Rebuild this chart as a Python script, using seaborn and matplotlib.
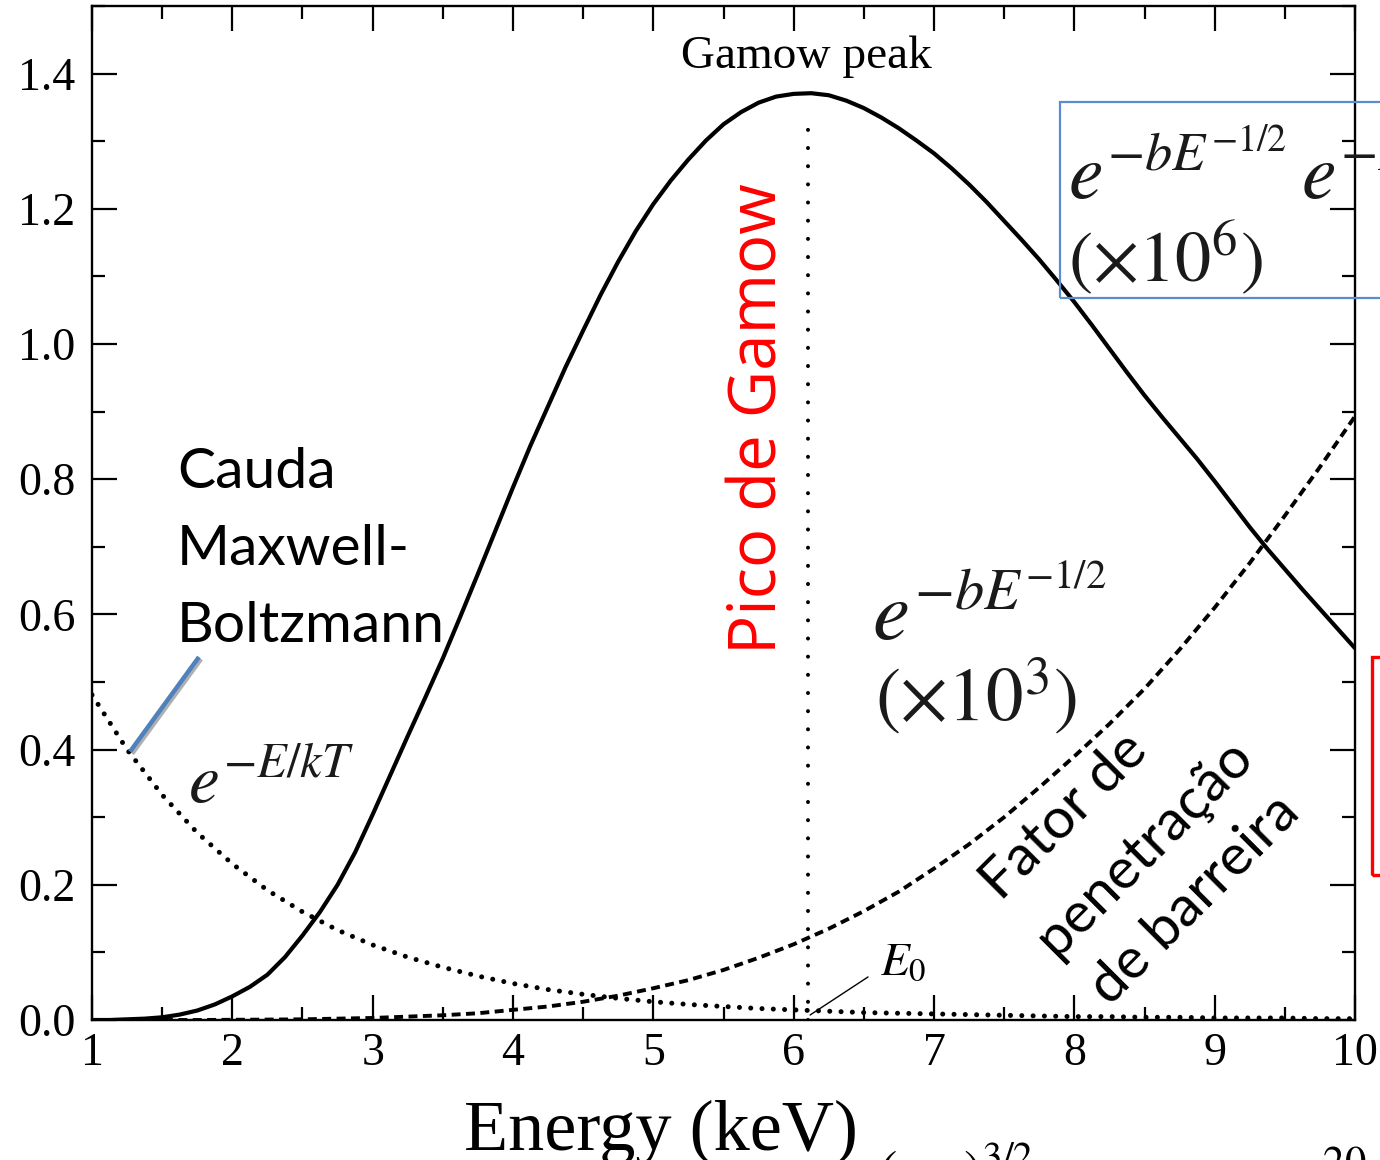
import numpy as np
import pandas as pd
import matplotlib
matplotlib.use("Agg")
import matplotlib.pyplot as plt
import matplotlib.patheffects as pe
from matplotlib.patches import Rectangle
from matplotlib.ticker import MultipleLocator, FormatStrFormatter
import seaborn as sns

# energia (keV) per il picco di Gamow, letta a passo fine
energy_fine = [1.0, 1.125, 1.25, 1.375, 1.5, 1.625, 1.75, 1.875, 2.0, 2.125, 2.25, 2.375,
               2.5, 2.625, 2.75, 2.875, 3.0, 3.125, 3.25, 3.375, 3.5, 3.625, 3.75, 3.875,
               4.0, 4.125, 4.25, 4.375, 4.5, 4.625, 4.75, 4.875, 5.0, 5.125, 5.25, 5.375,
               5.5, 5.625, 5.75, 5.875, 6.0, 6.125, 6.25, 6.375, 6.5, 6.625, 6.75, 6.875,
               7.0, 7.125, 7.25, 7.375, 7.5, 7.625, 7.75, 7.875, 8.0, 8.125, 8.25, 8.375,
               8.5, 8.625, 8.75, 8.875, 9.0, 9.125, 9.25, 9.375, 9.5, 9.625, 9.75, 9.875, 10.0]

gamow = [0.000, 0.000, 0.001, 0.002, 0.004, 0.008, 0.014, 0.023, 0.035, 0.049, 0.067, 0.093,
         0.125, 0.160, 0.200, 0.248, 0.304, 0.362, 0.420, 0.477, 0.535, 0.597, 0.660, 0.724,
         0.788, 0.850, 0.908, 0.966, 1.020, 1.073, 1.122, 1.167, 1.207, 1.242, 1.273, 1.301,
         1.325, 1.343, 1.357, 1.366, 1.370, 1.371, 1.368, 1.360, 1.349, 1.335, 1.319, 1.301,
         1.282, 1.260, 1.236, 1.210, 1.182, 1.154, 1.125, 1.094, 1.062, 1.028, 0.993, 0.958,
         0.924, 0.892, 0.861, 0.830, 0.797, 0.763, 0.729, 0.697, 0.667, 0.637, 0.608, 0.579, 0.550]

# energia (keV) per le altre due curve
energy = [1.0, 1.25, 1.5, 1.75, 2.0, 2.25, 2.5, 2.75, 3.0, 3.25, 3.5, 3.75,
          4.0, 4.25, 4.5, 4.75, 5.0, 5.25, 5.5, 5.75, 6.0, 6.25, 6.5, 6.75,
          7.0, 7.25, 7.5, 7.75, 8.0, 8.25, 8.5, 8.75, 9.0, 9.25, 9.5, 9.75, 10.0]

barrier = [0.000, 0.000, 0.000, 0.000, 0.0003, 0.0006, 0.001, 0.002, 0.003, 0.005,
           0.007, 0.010, 0.015, 0.020, 0.027, 0.036, 0.047, 0.059, 0.074, 0.092,
           0.112, 0.135, 0.161, 0.190, 0.224, 0.260, 0.300, 0.344, 0.390, 0.438,
           0.490, 0.548, 0.610, 0.676, 0.746, 0.818, 0.893]

boltzmann = [0.481, 0.400, 0.333, 0.277, 0.231, 0.192, 0.160, 0.133, 0.111, 0.093,
             0.078, 0.065, 0.054, 0.045, 0.038, 0.032, 0.027, 0.023, 0.020, 0.017,
             0.015, 0.013, 0.011, 0.010, 0.009, 0.008, 0.007, 0.006, 0.005, 0.005,
             0.004, 0.004, 0.003, 0.003, 0.003, 0.002, 0.002]

peak_energy = [6.1, 6.1]
peak_level = [0.0, 1.337]

df_g = pd.DataFrame({'E': energy_fine, 'gamow': gamow})
df = pd.DataFrame({'E': energy, 'barrier': barrier, 'mb': boltzmann})

# =========================================================
# STILE
# =========================================================
sns.set_theme(style="ticks")
plt.rcParams['font.family'] = ['Liberation Serif', 'DejaVu Serif']
plt.rcParams['mathtext.fontset'] = 'stix'
plt.rcParams['text.color'] = 'black'

fig = plt.figure(figsize=(13.8, 11.6), dpi=100)
ax = fig.add_axes([92 / 1380, 1 - 1020 / 1160, (1355 - 92) / 1380, (1020 - 6) / 1160])

sns.lineplot(data=df_g, x='E', y='gamow', ax=ax, color='black', lw=3.0)
sns.lineplot(data=df, x='E', y='barrier', ax=ax, color='black', lw=2.8,
             linestyle=(0, (2.3, 1.4)))
sns.lineplot(data=df, x='E', y='mb', ax=ax, color='black', lw=3.6,
             linestyle=(0, (0.01, 2.25)), dash_capstyle='round')
ax.plot(peak_energy, peak_level, color='black', lw=2.9,
        linestyle=(0, (0.01, 4.5)), dash_capstyle='round')

ax.set_xlim(1, 10)
ax.set_ylim(0, 1.5)
ax.xaxis.set_major_locator(MultipleLocator(1))
ax.xaxis.set_minor_locator(MultipleLocator(0.5))
ax.yaxis.set_major_locator(MultipleLocator(0.2))
ax.yaxis.set_minor_locator(MultipleLocator(0.1))
ax.xaxis.set_major_formatter(FormatStrFormatter('%d'))
ax.yaxis.set_major_formatter(FormatStrFormatter('%.1f'))
ax.tick_params(which='both', direction='in', top=True, right=True, width=1.6,
               colors='black', labelsize=33)
ax.tick_params(which='major', length=18)
ax.tick_params(which='minor', length=9.5)
ax.tick_params(axis='x', pad=9)
ax.tick_params(axis='y', pad=12)
for s in ax.spines.values():
    s.set_linewidth(1.7)
    s.set_color('black')
ax.set_xlabel('')
ax.set_ylabel('')

# =========================================================
# TESTI
# =========================================================
fig.text(661 / 1380, 1 - 1150 / 1160, 'Energy (keV)', fontsize=52,
         ha='center', va='baseline')

ax.text(6.088, 1.409, 'Gamow peak', fontsize=34, ha='center', va='baseline')

sans = ['Lato', 'DejaVu Sans']
for txt, yy in [('Cauda', 0.7876), ('Maxwell-', 0.6736), ('Boltzmann', 0.5596)]:
    ax.text(1.606, yy, txt, fontsize=41, family=sans, color='black',
            ha='left', va='baseline')

ax.plot([1.271, 1.762], [0.397, 0.537], color='#4f81bd', lw=3.2,
        solid_capstyle='butt',
        path_effects=[pe.SimpleLineShadow(offset=(1.5, -1.5), alpha=0.35),
                      pe.Normal()])

ax.text(1.684, 0.321, r'$e^{-E/kT}$', fontsize=50, color='#1a1a1a',
        ha='left', va='baseline')

ax.text(5.881, 0.890, 'Pico de Gamow', fontsize=47, color='#ff0000',
        family=['Open Sans', 'DejaVu Sans'], rotation=90,
        rotation_mode='anchor', ha='center', va='baseline')

ax.text(6.558, 0.5626, r'$e^{-bE^{-1/2}}$', fontsize=60, color='#1a1a1a',
        ha='left', va='baseline')
ax.text(6.58, 0.444, r'$(\times 10^{3})$', fontsize=54, color='#1a1a1a',
        ha='left', va='baseline')

ax.text(7.955, 1.214, r'$e^{-bE^{-1/2}}\,e^{-E/kT}$', fontsize=56,
        color='#1a1a1a', ha='left', va='baseline')
ax.text(7.955, 1.0925, r'$(\times 10^{6})$', fontsize=52, color='#1a1a1a',
        ha='left', va='baseline')

fig.add_artist(Rectangle((1060 / 1380, 1 - 298 / 1160), 0.3, 196 / 1160,
                         transform=fig.transFigure, fill=False,
                         edgecolor='#5b8ccf', lw=1.6))
fig.add_artist(Rectangle((1372 / 1380, 1 - 875 / 1160), 0.3, 218 / 1160,
                         transform=fig.transFigure, fill=False,
                         edgecolor='#ff0000', lw=2.4))

for txt, xx, yy in [('Fator de', 7.934, 0.3005),
                    ('penetração', 8.504, 0.2546),
                    ('de barreira', 8.860, 0.1776)]:
    ax.text(xx, yy, txt, fontsize=41, family=sans, color='black', rotation=45,
            rotation_mode='anchor', ha='center', va='center')

ax.text(6.615, 0.0666, r'$E_0$', fontsize=34, ha='left', va='baseline')
ax.plot([6.117, 6.53], [0.0074, 0.0637], color='black', lw=1.0)

# pezzi di formula tagliati in basso
fig.text(878 / 1380, 1 - 1190 / 1160, r'$(\quad\ \ )^{3/2}$', fontsize=40,
         ha='left', va='baseline')
fig.text(1322 / 1380, 1 - 1196 / 1160, r'$^{20}$', fontsize=44,
         ha='left', va='baseline')

fig.savefig('out.png', dpi=100)
